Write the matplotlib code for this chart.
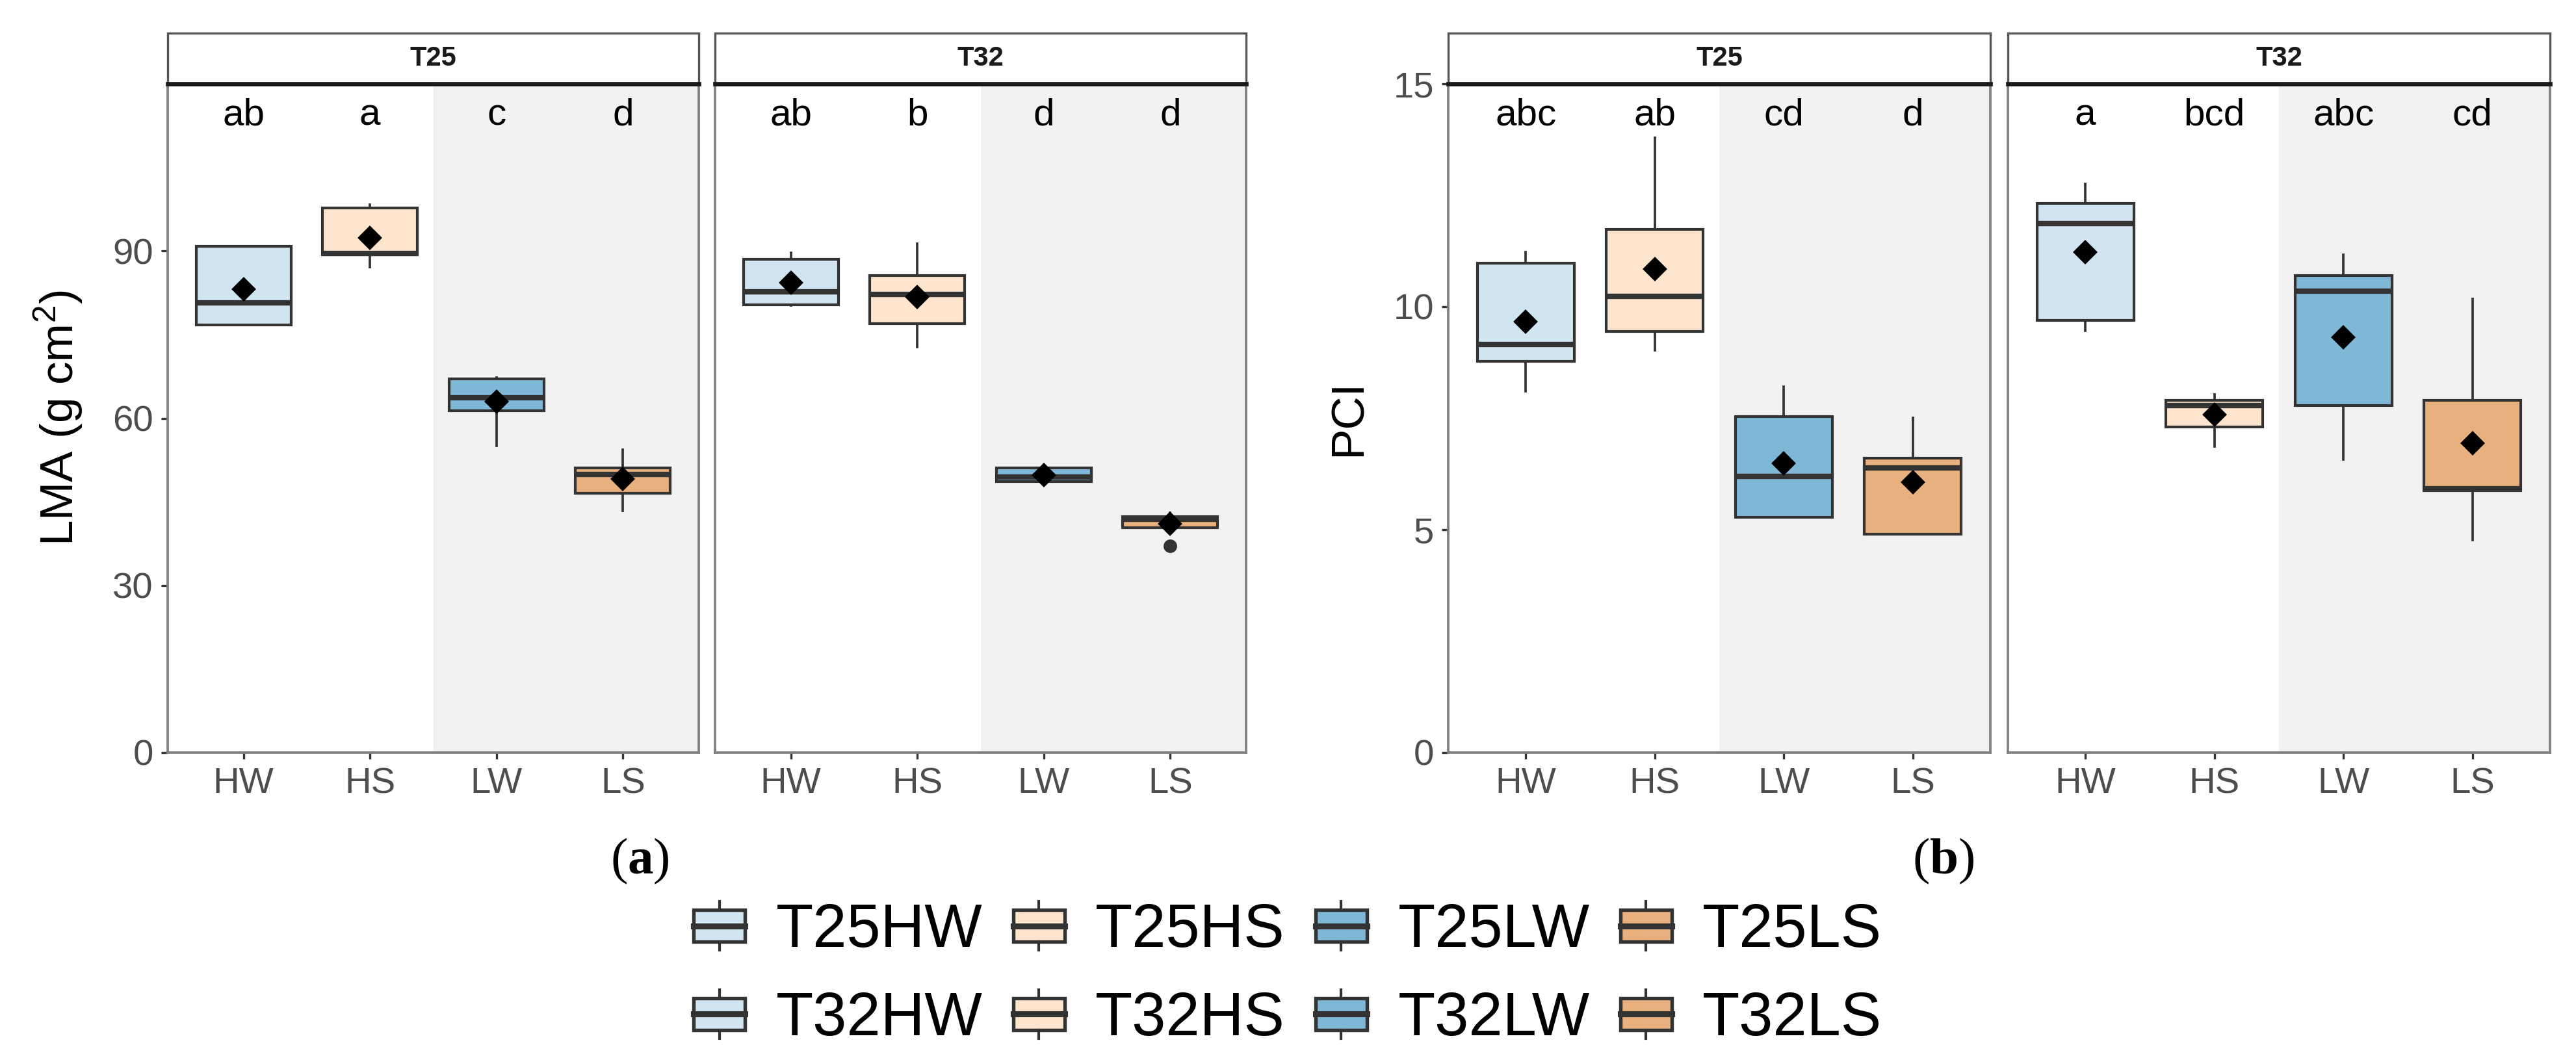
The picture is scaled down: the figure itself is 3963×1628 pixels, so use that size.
import matplotlib.pyplot as plt
from matplotlib.patches import Rectangle, Patch
from matplotlib.lines import Line2D
from matplotlib.legend_handler import HandlerBase

plt.rcParams['font.family'] = ['Liberation Sans', 'DejaVu Sans']
plt.rcParams['mathtext.fontset'] = 'custom'
plt.rcParams['mathtext.rm'] = 'Liberation Sans'
plt.rcParams['mathtext.bf'] = 'Liberation Serif:bold'
plt.rcParams['mathtext.default'] = 'regular'

treatments = ['HW', 'HS', 'LW', 'LS']
temps = ['T25', 'T32']
fills = ['#D1E5F0', '#FDE4CD', '#7FB7D6', '#E8B07E']

# box stats per treatment: whisker low, q1, median, q3, whisker high
lma_T25 = [[76.7, 76.7, 80.7, 90.8, 90.8],
           [87.1, 89.3, 89.6, 97.7, 98.3],
           [55.1, 61.3, 63.7, 67.0, 67.3],
           [43.4, 46.5, 49.9, 51.1, 54.3]]
lma_T25_mean = [83.2, 92.4, 63.0, 49.1]
lma_T25_out = [[], [], [], []]
lma_T25_letters = ['ab', 'a', 'c', 'd']

lma_T32 = [[80.2, 80.3, 82.7, 88.5, 89.7],
           [72.8, 77.0, 82.2, 85.6, 91.3],
           [48.1, 48.6, 49.4, 51.1, 51.7],
           [40.3, 40.3, 41.9, 42.3, 43.0]]
lma_T32_mean = [84.3, 81.8, 49.8, 41.0]
lma_T32_out = [[], [], [], [37.1]]
lma_T32_letters = ['ab', 'b', 'd', 'd']

pci_T25 = [[8.11, 8.77, 9.16, 10.98, 11.23],
           [9.02, 9.45, 10.24, 11.73, 13.79],
           [5.27, 5.27, 6.19, 7.54, 8.20],
           [4.90, 4.90, 6.38, 6.60, 7.51]]
pci_T25_mean = [9.66, 10.84, 6.49, 6.07]
pci_T25_out = [[], [], [], []]
pci_T25_letters = ['abc', 'ab', 'cd', 'd']

pci_T32 = [[9.46, 9.69, 11.87, 12.32, 12.76],
           [6.87, 7.31, 7.78, 7.90, 8.03],
           [6.57, 7.79, 10.35, 10.70, 11.17],
           [4.77, 5.88, 5.92, 7.90, 10.17]]
pci_T32_mean = [11.22, 7.58, 9.32, 6.94]
pci_T32_out = [[], [], [], []]
pci_T32_letters = ['a', 'bcd', 'abc', 'cd']

W, H = 3963, 1628
fig = plt.figure(figsize=(W / 300, H / 300), dpi=300)


def px_axes(x0, x1, y0, y1):
    return fig.add_axes([x0 / W, 1 - y1 / H, (x1 - x0) / W, (y1 - y0) / H])


def draw_facet(ax, stats, means, outs, letters, temp, ylim, yticks, first):
    pos = [1, 2, 3, 4]
    bstats = []
    for s, o, t in zip(stats, outs, treatments):
        bstats.append(dict(whislo=s[0], q1=s[1], med=s[2], q3=s[3], whishi=s[4],
                           fliers=o, label=t))
    bp = ax.bxp(bstats, positions=pos, widths=0.75, patch_artist=True, showcaps=False,
                boxprops=dict(edgecolor='#333333', linewidth=1.0),
                medianprops=dict(color='#333333', linewidth=2.0),
                whiskerprops=dict(color='#333333', linewidth=0.9),
                flierprops=dict(marker='o', markerfacecolor='#333333',
                                markeredgecolor='#333333', markersize=4))
    for box, c in zip(bp['boxes'], fills):
        box.set_facecolor(c)
    ax.plot(pos, means, 'D', color='black', markersize=5.5, zorder=5)
    ax.axvspan(2.5, 4.6, color='#F2F2F2', lw=0, zorder=0)
    for p, l in zip(pos, letters):
        ax.text(p, ylim[1] * 0.938, l, ha='center', va='baseline', fontsize=14, color='black')
    ax.set_xlim(0.4, 4.6)
    ax.set_ylim(*ylim)
    ax.set_xticks(pos)
    ax.set_xticklabels(treatments)
    ax.set_yticks(yticks)
    ax.tick_params(direction='out', length=2.5, width=0.8, color='#333333',
                   labelcolor='#4D4D4D', labelsize=13.5, pad=2.8)
    if not first:
        ax.tick_params(axis='y', left=False, labelleft=False)
    for sp in ax.spines.values():
        sp.set_color('#808080')
        sp.set_linewidth(0.9)
    # facet strip on top of the panel
    hfrac = 78 / (ax.get_position().height * H)
    ax.add_patch(Rectangle((0, 1), 1, hfrac, transform=ax.transAxes, clip_on=False,
                           facecolor='white', edgecolor='#555555', linewidth=0.8))
    ax.plot([0, 1], [1, 1], transform=ax.transAxes, color='#1A1A1A', lw=1.6,
            clip_on=False, zorder=6)
    ax.text(0.5, 1 + hfrac / 2, temp, transform=ax.transAxes, ha='center', va='center',
            fontsize=10, fontweight='bold', color='#1A1A1A')


top, bottom = 129, 1158
a1 = px_axes(258, 1075, top, bottom)
a2 = px_axes(1100, 1917, top, bottom)
b1 = px_axes(2228, 3062, top, bottom)
b2 = px_axes(3089, 3923, top, bottom)

draw_facet(a1, lma_T25, lma_T25_mean, lma_T25_out, lma_T25_letters, temps[0],
           (0, 120), [0, 30, 60, 90], True)
draw_facet(a2, lma_T32, lma_T32_mean, lma_T32_out, lma_T32_letters, temps[1],
           (0, 120), [0, 30, 60, 90], False)
draw_facet(b1, pci_T25, pci_T25_mean, pci_T25_out, pci_T25_letters, temps[0],
           (0, 15), [0, 5, 10, 15], True)
draw_facet(b2, pci_T32, pci_T32_mean, pci_T32_out, pci_T32_letters, temps[1],
           (0, 15), [0, 5, 10, 15], False)

fig.text(90 / W, 1 - 643 / H, 'LMA (g cm$^2$)', rotation=90, ha='center', va='center',
         fontsize=17, color='black')
fig.text(2076 / W, 1 - 643 / H, 'PCI', rotation=90, ha='center', va='center',
         fontsize=17, color='black')

fig.text(984 / W, 1 - 1325 / H, r'($\mathbf{a}$)', ha='center', va='center',
         fontsize=19, family='Liberation Serif')
fig.text(2990 / W, 1 - 1325 / H, r'($\mathbf{b}$)', ha='center', va='center',
         fontsize=19, family='Liberation Serif')


class BoxKey(HandlerBase):
    def create_artists(self, legend, orig, xd, yd, width, height, fontsize, trans):
        x0, y0 = -xd, -yd
        stub = 0.17 * height
        box = Rectangle((x0, y0 + stub), width, height - 2 * stub,
                        facecolor=orig.get_facecolor(), edgecolor='#333333',
                        linewidth=1.3, transform=trans)
        med = Line2D([x0, x0 + width], [y0 + height / 2] * 2, color='#333333',
                     lw=2.2, transform=trans)
        w1 = Line2D([x0 + width / 2] * 2, [y0, y0 + stub], color='#333333',
                    lw=1.0, transform=trans)
        w2 = Line2D([x0 + width / 2] * 2, [y0 + height - stub, y0 + height],
                    color='#333333', lw=1.0, transform=trans)
        return [box, med, w1, w2]


handles, labels = [], []
for t, c in zip(treatments, fills):
    for tp in temps:
        handles.append(Patch(facecolor=c))
        labels.append(tp + t)

fig.legend(handles, labels, handler_map={Patch: BoxKey()}, ncol=4, loc='center',
           bbox_to_anchor=(0.5, 1 - 1500 / H), frameon=False, fontsize=22.5,
           handlelength=0.84, handleheight=0.85, handletextpad=0.51,
           columnspacing=0.5, labelspacing=0.49, borderpad=0)

fig.savefig('out.png', dpi=300, facecolor='white')
